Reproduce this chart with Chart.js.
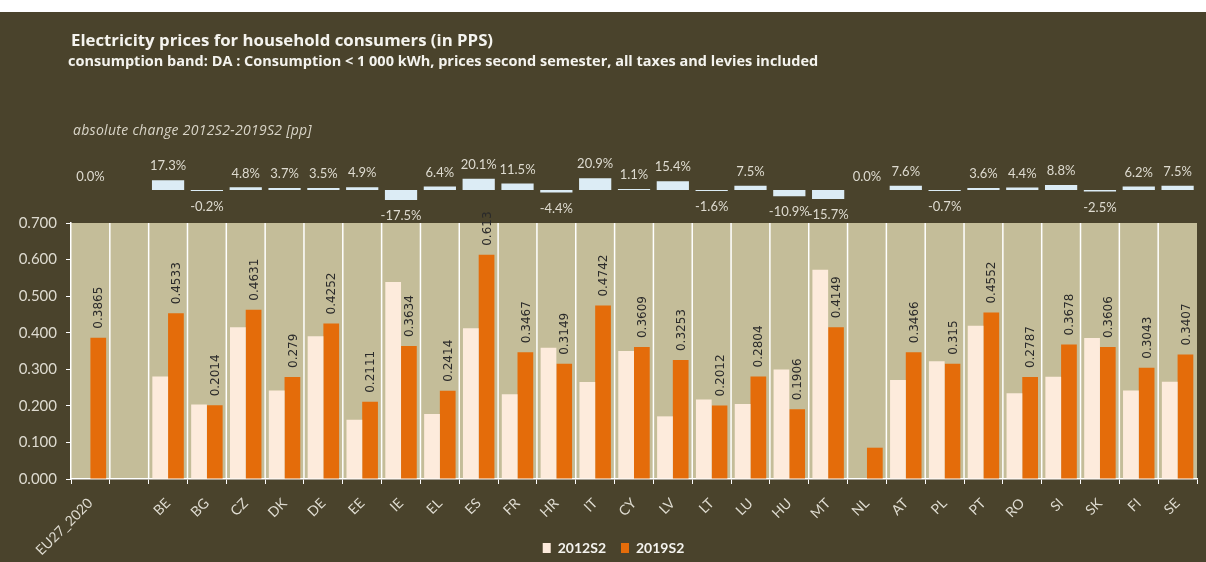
<!DOCTYPE html>
<html>
<head>
<meta charset="utf-8">
<script src="https://cdn.jsdelivr.net/npm/chart.js@4.4.1/dist/chart.umd.min.js"></script>
<style>
  html, body { margin:0; padding:0; background:#fff; overflow:hidden; width:1206px; height:562px; }
  #panel { position:absolute; left:0; top:12px; width:1206px; height:550px; background:#4a432c; overflow:hidden; }
  #chart { position:absolute; left:0; top:0; }
  .txt { position:absolute; white-space:nowrap; font-family:"Open Sans", sans-serif; }
  #title { left:71px; top:16px; font-size:16.8px; font-weight:bold; color:#f4f3ee; line-height:24px; }
  #subtitle { left:68px; top:39px; font-size:14.5px; font-weight:bold; color:#f4f3ee; line-height:20px; }
  #caption { left:73px; top:108px; font-size:14px; letter-spacing:0.3px; font-style:italic; color:#d9d5c8; line-height:20px; }
</style>
</head>
<body>
<div id="panel">
  <canvas id="chart" width="1206" height="553"></canvas>
  <div class="txt" id="title">Electricity prices for household consumers (in PPS)</div>
  <div class="txt" id="subtitle">consumption band: DA : Consumption &lt; 1 000 kWh, prices second semester, all taxes and levies included</div>
  <div class="txt" id="caption">absolute change 2012S2-2019S2 [pp]</div>
</div>
<script>
// data
const categories = ['EU27_2020', '', 'BE', 'BG', 'CZ', 'DK', 'DE', 'EE', 'IE', 'EL', 'ES', 'FR', 'HR', 'IT', 'CY', 'LV', 'LT', 'LU', 'HU', 'MT', 'NL', 'AT', 'PL', 'PT', 'RO', 'SI', 'SK', 'FI', 'SE'];
const price2012 = [null, null, 0.2803, 0.2034, 0.4151, 0.242, 0.3902, 0.1621, 0.5384, 0.1774, 0.412, 0.2317, 0.3589, 0.2652, 0.3499, 0.1713, 0.2172, 0.2054, 0.2996, 0.5719, null, 0.2706, 0.322, 0.4192, 0.2347, 0.2798, 0.3856, 0.2423, 0.2657];
const price2019 = [0.3865, null, 0.4533, 0.2014, 0.4631, 0.279, 0.4252, 0.2111, 0.3634, 0.2414, 0.613, 0.3467, 0.3149, 0.4742, 0.3609, 0.3253, 0.2012, 0.2804, 0.1906, 0.4149, 0.0856, 0.3466, 0.315, 0.4552, 0.2787, 0.3678, 0.3606, 0.3043, 0.3407];
const change = [0.0, null, 17.3, -0.2, 4.8, 3.7, 3.5, 4.9, -17.5, 6.4, 20.1, 11.5, -4.4, 20.9, 1.1, 15.4, -1.6, 7.5, -10.9, -15.7, 0.0, 7.6, -0.7, 3.6, 4.4, 8.8, -2.5, 6.2, 7.5];
const priceTicks = [0, 0.1, 0.2, 0.3, 0.4, 0.5, 0.6, 0.7];
const unlabelled = ['NL'];

const lightText = '#dedbd0';

// tan plot area + white category separators, only in the price band
const backdrop = {
  id: 'backdrop',
  beforeDraw(chart) {
    const { ctx, scales: { x, y } } = chart;
    ctx.save();
    ctx.fillStyle = '#c4bd99';
    ctx.fillRect(x.left, y.top, x.right - x.left, y.bottom - y.top);
    const half = (x.getPixelForTick(1) - x.getPixelForTick(0)) / 2;
    ctx.strokeStyle = '#ffffff';
    ctx.lineWidth = 1.5;
    for (let i = 1; i < categories.length; i++) {
      const px = x.getPixelForTick(i) - half;
      ctx.beginPath();
      ctx.moveTo(px, y.top);
      ctx.lineTo(px, y.bottom);
      ctx.stroke();
    }
    ctx.restore();
  }
};

const valueLabels = {
  id: 'valueLabels',
  afterDatasetsDraw(chart) {
    const ctx = chart.ctx;
    ctx.save();
    ctx.font = '12px "DejaVu Sans"';
    ctx.fillStyle = '#2a2a2a';
    ctx.textAlign = 'left';
    ctx.textBaseline = 'middle';
    chart.getDatasetMeta(1).data.forEach((bar, i) => {
      const v = price2019[i];
      if (v == null || unlabelled.includes(categories[i])) return;
      ctx.save();
      ctx.translate(bar.x + 1, bar.y - 9);
      ctx.rotate(-Math.PI / 2);
      ctx.fillText(String(v), 0, 0);
      ctx.restore();
    });
    ctx.font = '13px Lato';
    ctx.fillStyle = lightText;
    ctx.textAlign = 'center';
    chart.getDatasetMeta(2).data.forEach((bar, i) => {
      const v = change[i];
      if (v == null) return;
      const ty = v >= 0 ? bar.y - 14 : bar.y + 16;
      ctx.fillText(v.toFixed(1) + '%', bar.x, ty);
    });
    ctx.restore();
  }
};

// let tick labels spill out of their (deliberately small) scale boxes
const noLabelClip = s => { s._computeLabelArea = () => undefined; };

new Chart(document.getElementById('chart'), {
  type: 'bar',
  data: {
    labels: categories,
    datasets: [
      { label: '2012S2', data: price2012, yAxisID: 'y', backgroundColor: '#fdebdc', categoryPercentage: 0.81, barPercentage: 1 },
      { label: '2019S2', data: price2019, yAxisID: 'y', backgroundColor: '#e46c0a', categoryPercentage: 0.81, barPercentage: 1 },
      { label: 'change', data: change, yAxisID: 'y2', grouped: false, minBarLength: 1,
        backgroundColor: c => c.raw === 0 ? 'rgba(0,0,0,0)' : '#dcecf5',
        categoryPercentage: 1, barPercentage: 0.83 }
    ]
  },
  options: {
    responsive: false,
    animation: false,
    layout: { padding: { left: 30, right: 9, top: 136, bottom: 0 } },
    plugins: {
      tooltip: { enabled: false },
      legend: {
        position: 'bottom',
        labels: {
          filter: item => item.datasetIndex < 2,
          color: '#f4f3ee',
          font: { family: 'Lato', size: 14, weight: 'bold' },
          boxWidth: 8, boxHeight: 10, padding: 15
        }
      }
    },
    scales: {
      x: {
        grid: { display: true, drawOnChartArea: false, color: '#ffffff', tickLength: 5, offset: true },
        border: { color: '#ffffff', width: 1.5 },
        ticks: { color: lightText, font: { family: 'Lato', size: 14 }, minRotation: 45, maxRotation: 45, autoSkip: false, padding: 11 },
        afterFit: s => { s.height = 47; noLabelClip(s); }
      },
      y: {
        stack: 'main', stackWeight: 256, weight: 0, position: 'left',
        min: 0, max: 0.7,
        afterBuildTicks: s => { s.ticks = priceTicks.map(v => ({ value: v })); },
        ticks: { callback: v => v.toFixed(3), color: lightText, font: { family: 'Lato', size: 15 }, padding: 9 },
        grid: { drawOnChartArea: false, color: '#ffffff', tickLength: 5 },
        border: { color: '#ffffff', width: 1.5 },
        afterFit: s => { s.width = 41; noLabelClip(s); }
      },
      y2: {
        stack: 'main', stackWeight: 75, weight: 1, position: 'left',
        min: -58, max: 74,
        ticks: { display: false },
        grid: { display: false },
        border: { display: false },
        afterFit: s => { s.width = 41; }
      }
    }
  },
  plugins: [backdrop, valueLabels]
});
</script>
</body>
</html>
